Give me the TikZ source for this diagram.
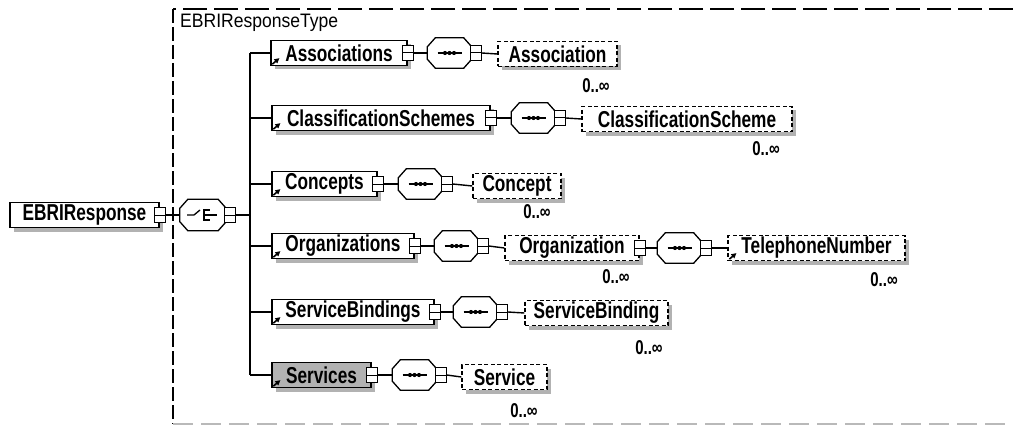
\documentclass[tikz,border=0pt]{standalone}
\usepackage{fontspec}
\setmainfont{Liberation Sans}[FakeStretch=0.75]
\newfontfamily\typefam{Liberation Sans}[FakeStretch=0.9]
\usetikzlibrary{shadows,arrows.meta}
\newcommand\elemfont{\fontsize{23}{25}\selectfont\bfseries}
\newcommand\typefont{\typefam\fontsize{19.5}{22}\selectfont}
\newcommand\multfont{\fontsize{20}{20}\selectfont\bfseries}
\newcommand\octoshape[1]{%
  \fill[gray!60, shift={(4pt,-4pt)}]
    ([xshift=8pt]#1.north west) -- ([xshift=-8pt]#1.north east) -- ([yshift=-9pt]#1.north east)
    -- ([yshift=9pt]#1.south east) -- ([xshift=-8pt]#1.south east) -- ([xshift=8pt]#1.south west)
    -- ([yshift=9pt]#1.south west) -- ([yshift=-9pt]#1.north west) -- cycle;
  \filldraw[line width=1.3pt, fill=white]
    ([xshift=8pt]#1.north west) -- ([xshift=-8pt]#1.north east) -- ([yshift=-9pt]#1.north east)
    -- ([yshift=9pt]#1.south east) -- ([xshift=-8pt]#1.south east) -- ([xshift=8pt]#1.south west)
    -- ([yshift=9pt]#1.south west) -- ([yshift=-9pt]#1.north west) -- cycle;}
\newcommand\seqicon[1]{%
  \draw[line width=1.2pt] ([xshift=-12pt]#1.center) -- ([xshift=12pt]#1.center);
  \foreach \d in {-4.5,0,4.5} \fill ([xshift=\d pt]#1.center) circle (2.1pt);}
\newcommand\refarrow[1]{%
  \draw[line width=1.6pt,-{Triangle[length=5pt,width=5pt]}] ([shift={(2pt,2pt)}]#1.south west) -- ++(7pt,6pt);}
\tikzset{
  shad/.style={drop shadow={shadow xshift=4pt,shadow yshift=-4pt,fill=gray!60,opacity=1}},
  elem/.style={draw, line width=1.3pt, fill=white, minimum height=25pt, inner sep=0pt, font=\elemfont, shad},
  optel/.style={elem, line width=1.2pt, dash pattern=on 4pt off 2.5pt},
  comp/.style={rectangle, draw=none, minimum width=44pt, minimum height=30pt, inner sep=0pt},
  pm/.style={draw, line width=1.1pt, fill=white, minimum width=11pt, minimum height=15pt, inner sep=0pt,
     path picture={\draw[line width=1pt] (path picture bounding box.west) -- (path picture bounding box.east);}},
  mult/.style={font=\multfont, inner sep=0pt},
  conn/.style={line width=1.4pt},
}
\begin{document}
\begin{tikzpicture}[x=1pt,y=-1pt]
\useasboundingbox (0,0) rectangle (1013,428);
% outer type box
\draw[line width=1.2pt, dash pattern=on 24pt off 7pt] (1013,9) -- (173,9);
\draw[line width=1.2pt, dash pattern=on 14pt off 4pt] (173,9) -- (173,424);
\draw[line width=1.2pt, gray!55, dash pattern=on 20pt off 8pt] (173,424) -- (1013,424);
\node[font=\typefont, anchor=west, inner sep=0pt] (typelabel) at (180,23) {EBRIResponseType};

% root
\node[elem, minimum width=149pt] (ebri) at (84.5,215) {EBRIResponse};
\node[pm] (ebrim) at (ebri.east) {};
\node[comp, minimum width=46pt, minimum height=31pt] (choice) at (203,215) {};
\octoshape{choice}
\node[pm] (choicep) at ([xshift=4pt]choice.east) {};
\draw[line width=1.3pt] ([xshift=-16pt]choice.center) -- ([xshift=-9pt]choice.center)
   -- ([shift={(-3pt,5pt)}]choice.center);
\draw[line width=1.3pt] ([shift={(1pt,6pt)}]choice.center) -- ([shift={(1pt,-6pt)}]choice.center);
\foreach \yy in {-5,0,5} \draw[line width=1.3pt] ([shift={(1pt,\yy pt)}]choice.center) -- ([shift={(7pt,\yy pt)}]choice.center);
\draw[line width=1.3pt] ([xshift=7pt]choice.center) -- ([xshift=14pt]choice.center);
\draw[conn] (ebrim.east) -- (choice.west);
\coordinate (bm) at (250,215);
\draw[conn] (choicep.east) -- (bm);

% bus
\coordinate (b1) at (250,53);
\coordinate (b2) at (250,118);
\coordinate (b3) at (250,184);
\coordinate (b4) at (250,246);
\coordinate (b5) at (250,312);
\coordinate (b6) at (250,375);
\draw[conn] (b1) -- (b6);

% row 1
\node[elem, minimum width=136pt] (assoc) at (339,53) {Associations};
\node[pm] (assocm) at (assoc.east) {};
\node[comp] (seq1) at (449.5,53) {};
\octoshape{seq1}
\node[pm] (seq1p) at ([xshift=4pt]seq1.east) {};
\node[optel, minimum width=119pt] (association) at (557.5,54) {Association};
\node[mult] (m1) at (596,86) {0..∞};
\seqicon{seq1}
\refarrow{assoc}
\draw[conn] (b1) -- (assoc.west);
\draw[conn] (assocm.east) -- (seq1.west);
\draw[conn] (seq1p.east) -- (association.west);

% row 2
\node[elem, minimum width=218pt] (cls) at (381,118) {ClassificationSchemes};
\node[pm] (clsm) at (cls.east) {};
\node[comp] (seq2) at (533.5,118) {};
\octoshape{seq2}
\node[pm] (seq2p) at ([xshift=4pt]seq2.east) {};
\node[optel, minimum width=210pt] (clsitem) at (687,119) {ClassificationScheme};
\node[mult] (m2) at (766,149) {0..∞};
\seqicon{seq2}
\refarrow{cls}
\draw[conn] (b2) -- (cls.west);
\draw[conn] (clsm.east) -- (seq2.west);
\draw[conn] (seq2p.east) -- (clsitem.west);

% row 3
\node[elem, minimum width=105pt] (concepts) at (324.5,184) {Concepts};
\node[pm] (conceptsm) at (concepts.east) {};
\node[comp] (seq3) at (420.5,184) {};
\octoshape{seq3}
\node[pm] (seq3p) at ([xshift=4pt]seq3.east) {};
\node[optel, minimum width=88pt] (concept) at (517,186) {Concept};
\node[mult] (m3) at (537,212) {0..∞};
\seqicon{seq3}
\refarrow{concepts}
\draw[conn] (b3) -- (concepts.west);
\draw[conn] (conceptsm.east) -- (seq3.west);
\draw[conn] (seq3p.east) -- (concept.west);

% row 4
\node[elem, minimum width=142pt] (orgs) at (343,246) {Organizations};
\node[pm] (orgsm) at (orgs.east) {};
\node[comp] (seq4) at (456.5,246) {};
\octoshape{seq4}
\node[pm] (seq4p) at ([xshift=4pt]seq4.east) {};
\node[optel, minimum width=134pt] (orgitem) at (572,248) {Organization\hspace{8pt}};
\node[pm] (orgitemm) at (orgitem.east) {};
\node[mult] (m4) at (616,277) {0..∞};
\node[comp] (seq5) at (679.5,248) {};
\octoshape{seq5}
\node[pm] (seq5p) at ([xshift=4pt]seq5.east) {};
\node[optel, minimum width=177pt] (tel) at (816.5,248) {TelephoneNumber};
\node[mult] (m5) at (884,280) {0..∞};
\seqicon{seq4}
\seqicon{seq5}
\refarrow{orgs}
\refarrow{tel}
\draw[conn] (b4) -- (orgs.west);
\draw[conn] (orgsm.east) -- (seq4.west);
\draw[conn] (seq4p.east) -- (orgitem.west);
\draw[conn] (orgitemm.east) -- (seq5.west);
\draw[conn] (seq5p.east) -- (tel.west);

% row 5
\node[elem, minimum width=162pt] (sb) at (353,312) {ServiceBindings};
\node[pm] (sbm) at (sb.east) {};
\node[comp] (seq6) at (475.5,312) {};
\octoshape{seq6}
\node[pm] (seq6p) at ([xshift=4pt]seq6.east) {};
\node[optel, minimum width=143pt] (sbitem) at (596.5,313) {ServiceBinding};
\node[mult] (m6) at (649,348) {0..∞};
\seqicon{seq6}
\refarrow{sb}
\draw[conn] (b5) -- (sb.west);
\draw[conn] (sbm.east) -- (seq6.west);
\draw[conn] (seq6p.east) -- (sbitem.west);

% row 6
\node[elem, minimum width=99pt, fill=gray!60] (svc) at (321.5,375) {Services};
\node[pm] (svcm) at (svc.east) {};
\node[comp] (seq7) at (414.5,375) {};
\octoshape{seq7}
\node[pm] (seq7p) at ([xshift=4pt]seq7.east) {};
\node[optel, minimum width=85pt] (svcitem) at (504.5,377) {Service};
\node[mult] (m7) at (524,411) {0..∞};
\seqicon{seq7}
\refarrow{svc}
\draw[conn] (b6) -- (svc.west);
\draw[conn] (svcm.east) -- (seq7.west);
\draw[conn] (seq7p.east) -- (svcitem.west);
\end{tikzpicture}
\end{document}
